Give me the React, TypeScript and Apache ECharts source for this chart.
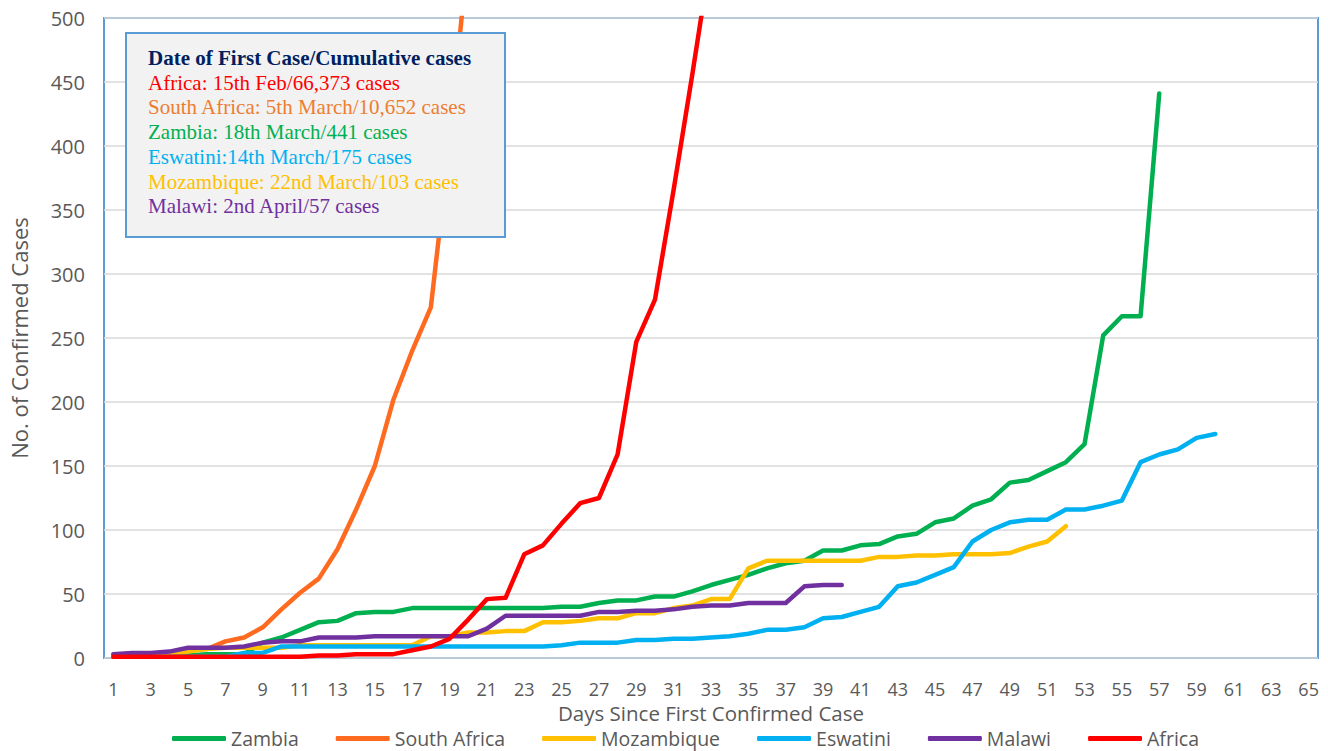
import React, { useEffect, useRef } from 'react';
import * as echarts from 'echarts';

const days = Array.from({ length: 65 }, (_, i) => String(i + 1));

const zambia = [2, 2, 2, 2, 2, 3, 3, 3, 12, 16, 22, 28, 29, 35, 36, 36, 39, 39, 39, 39, 39, 39, 39, 39, 40, 40, 43, 45, 45, 48, 48, 52, 57, 61, 65, 70, 74, 76, 84, 84, 88, 89, 95, 97, 106, 109, 119, 124, 137, 139, 146, 153, 167, 252, 267, 267, 441];
const southAfrica = [1, 1, 2, 3, 7, 7, 13, 16, 24, 38, 51, 62, 85, 116, 150, 202, 240, 274, 402, 554];
const mozambique = [1, 1, 1, 3, 5, 7, 8, 8, 8, 8, 10, 10, 10, 10, 10, 10, 10, 17, 17, 20, 20, 21, 21, 28, 28, 29, 31, 31, 35, 35, 39, 41, 46, 46, 70, 76, 76, 76, 76, 76, 76, 79, 79, 80, 80, 81, 81, 81, 82, 87, 91, 103];
const eswatini = [1, 1, 1, 1, 1, 1, 1, 4, 4, 9, 9, 9, 9, 9, 9, 9, 9, 9, 9, 9, 9, 9, 9, 9, 10, 12, 12, 12, 14, 14, 15, 15, 16, 17, 19, 22, 22, 24, 31, 32, 36, 40, 56, 59, 65, 71, 91, 100, 106, 108, 108, 116, 116, 119, 123, 153, 159, 163, 172, 175];
const malawi = [3, 4, 4, 5, 8, 8, 8, 9, 12, 13, 13, 16, 16, 16, 17, 17, 17, 17, 17, 17, 23, 33, 33, 33, 33, 33, 36, 36, 37, 37, 38, 40, 41, 41, 43, 43, 43, 56, 57, 57];
const africa = [1, 1, 1, 1, 1, 1, 1, 1, 1, 1, 1, 2, 2, 3, 3, 3, 6, 9, 15, 30, 46, 47, 81, 88, 105, 121, 125, 159, 247, 280, 366, 456, 550];

const seriesNames = ['Zambia', 'South Africa', 'Mozambique', 'Eswatini', 'Malawi', 'Africa'];
const seriesData = [zambia, southAfrica, mozambique, eswatini, malawi, africa];
const seriesColors = ['#00B050', '#FF6A21', '#FFC000', '#00B0F0', '#7030A0', '#FF0000'];

const boxTitle = 'Date of First Case/Cumulative cases';
const boxLines = [
  'Africa: 15th Feb/66,373 cases',
  'South Africa: 5th March/10,652 cases',
  'Zambia: 18th March/441 cases',
  'Eswatini:14th March/175 cases',
  'Mozambique: 22nd March/103 cases',
  'Malawi: 2nd April/57 cases',
];
const boxColors = ['#FF0000', '#ED7D31', '#00B050', '#00B0F0', '#FFC000', '#7030A0'];

const yAxisName = 'No. of Confirmed Cases';
const xAxisName = 'Days Since First Confirmed Case';

export default function App() {
  const ref = useRef<HTMLDivElement>(null);
  useEffect(() => {
    if (!ref.current) return;
    const chart = echarts.init(ref.current, undefined, { renderer: 'svg' });
    const font = '"Open Sans", "Noto Sans", sans-serif';
    const boxX = 126, boxY = 33, lineH = 24.7;
    const graphics: any[] = [
      {
        type: 'rect',
        z: 100,
        shape: { x: boxX, y: boxY, width: 379, height: 204 },
        style: { fill: '#F2F2F2', stroke: '#5B9BD5', lineWidth: 2 },
      },
      {
        type: 'text',
        z: 101,
        style: {
          text: boxTitle,
          x: 148,
          y: 58,
          fill: '#002060',
          font: 'bold 21px "Liberation Serif", "DejaVu Serif", serif',
          verticalAlign: 'middle',
        },
      },
      ...boxLines.map((t, i) => ({
        type: 'text',
        z: 101,
        style: {
          text: t,
          x: 148,
          y: 58 + lineH * (i + 1),
          fill: boxColors[i],
          font: '21px "Liberation Serif", "DejaVu Serif", serif',
          verticalAlign: 'middle',
        },
      })),
    ];
    chart.setOption({
      animation: false,
      grid: {
        left: 102,
        right: 10,
        top: 18,
        bottom: 93,
        show: true,
        borderColor: '#5B9BD5',
        borderWidth: 2,
        backgroundColor: 'transparent',
      },
      legend: {
        data: seriesNames,
        left: 167,
        top: 728,
        padding: [0, 5],
        itemWidth: 54,
        itemHeight: 5,
        itemGap: 37,
        icon: 'roundRect',
        textStyle: { fontSize: 19.5, lineHeight: 21, color: '#595959', fontFamily: font },
      },
      xAxis: {
        type: 'category',
        data: days,
        boundaryGap: true,
        axisLine: { show: false },
        axisTick: { show: false },
        axisLabel: { interval: 1, fontSize: 18, color: '#595959', fontFamily: font, margin: 22 },
        name: xAxisName,
        nameLocation: 'middle',
        nameGap: 42,
        nameTextStyle: { fontSize: 20.5, lineHeight: 21, color: '#595959', fontFamily: font },
      },
      yAxis: {
        type: 'value',
        min: 0,
        max: 500,
        interval: 50,
        axisLine: { show: false },
        axisTick: { show: false },
        axisLabel: { fontSize: 20, color: '#595959', fontFamily: font, margin: 19 },
        splitLine: { lineStyle: { color: '#D9D9D9', width: 1.5 } },
        name: yAxisName,
        nameLocation: 'middle',
        nameGap: 74,
        nameTextStyle: { fontSize: 22, color: '#595959', fontFamily: font },
      },
      graphic: graphics,
      series: seriesNames.map((name, i) => ({
        name,
        type: 'line',
        data: seriesData[i],
        showSymbol: false,
        symbol: 'none',
        clip: true,
        color: seriesColors[i],
        itemStyle: { color: seriesColors[i] },
        lineStyle: { width: 4.5, color: seriesColors[i], cap: 'round', join: 'round' },
      })),
    });
    return () => chart.dispose();
  }, []);
  return (
    <div
      ref={ref}
      style={{ position: 'absolute', left: 0, top: 0, width: 1328, height: 751 }}
    />
  );
}
